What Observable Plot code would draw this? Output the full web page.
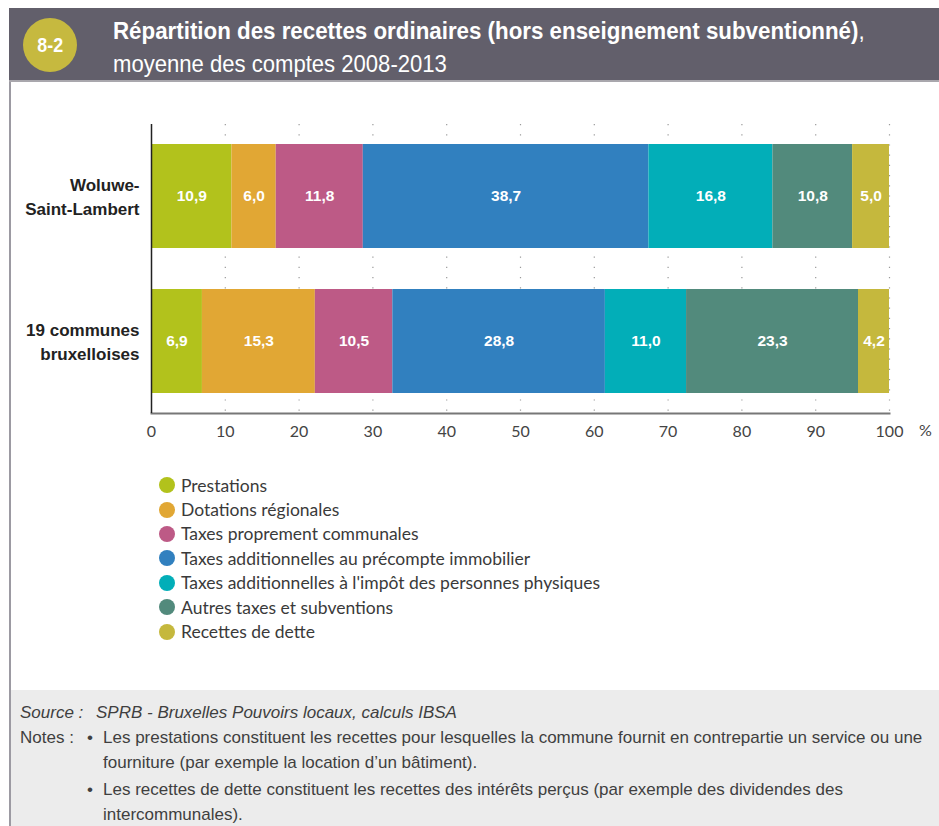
<!DOCTYPE html>
<html><head><meta charset="utf-8">
<script src="https://cdn.jsdelivr.net/npm/d3@7"></script>
<script src="https://cdn.jsdelivr.net/npm/@observablehq/plot@0.6"></script>
<style>
html,body{margin:0;padding:0;background:#fff;}
body{width:939px;height:826px;position:relative;overflow:hidden;font-family:Lato,"Noto Sans",sans-serif;}
#header{position:absolute;left:9px;top:8px;width:930px;height:72px;background:#625f6b;border-bottom:2px solid #a9a7ad;}
#badge{position:absolute;left:23px;top:18px;width:54px;height:54px;border-radius:50%;background:#c6b93f;color:#fff;font:bold 21px "Liberation Sans",sans-serif;display:flex;align-items:center;justify-content:center;}
#badge span{display:inline-block;transform:scaleX(0.85);}
#title{position:absolute;left:113px;top:17px;color:#fff;font:bold 24px "Liberation Sans",sans-serif;white-space:nowrap;transform-origin:0 0;transform:scaleX(0.93);}
#title span{font-weight:normal;}
#subtitle{position:absolute;left:113px;top:50px;color:#fff;font:normal 24px "Liberation Sans",sans-serif;white-space:nowrap;transform-origin:0 0;transform:scaleX(0.92);}
#leftborder{position:absolute;left:9px;top:82px;width:2px;height:744px;background:#9c9aa2;}
#chart{position:absolute;left:0;top:100px;}
#legend{position:absolute;left:159px;top:473px;font-size:17.5px;color:#3a3a3a;}
.li{height:24.4px;display:flex;align-items:center;}
.dot{width:16px;height:16px;border-radius:50%;margin-right:6px;}
#footer{position:absolute;left:11px;top:690px;width:928px;height:136px;background:#ececec;color:#3f3f3f;font:17px "Liberation Sans",sans-serif;}
.ft{position:absolute;white-space:nowrap;}
</style></head>
<body>
<div id="header"></div>
<div id="badge"></div>
<div id="title"></div>
<div id="subtitle"></div>
<div id="leftborder"></div>
<div id="chart"></div>
<div id="legend"></div>
<div id="footer"></div>
<script>
const badgeText = "8-2";
const titleText = "Répartition des recettes ordinaires (hors enseignement subventionné)";
const subtitleText = "moyenne des comptes 2008-2013";
const communes = ["Woluwe-Saint-Lambert", "19 communes bruxelloises"];
const communeLabels = ["Woluwe-\nSaint-Lambert", "19 communes\nbruxelloises"];
const categories = [
  "Prestations",
  "Dotations régionales",
  "Taxes proprement communales",
  "Taxes additionnelles au précompte immobilier",
  "Taxes additionnelles à l'impôt des personnes physiques",
  "Autres taxes et subventions",
  "Recettes de dette"
];
const woluweValues = [10.9, 6.0, 11.8, 38.7, 16.8, 10.8, 5.0];
const bruxellesValues = [6.9, 15.3, 10.5, 28.8, 11.0, 23.3, 4.2];
const colors = ["#b2c21c", "#e1a734", "#bd5a86", "#3180bf", "#02aeb8", "#528a7c", "#c5b83d"];
const xTicks = [0, 10, 20, 30, 40, 50, 60, 70, 80, 90, 100];
const sourceLabel = "Source :";
const sourceText = "SPRB - Bruxelles Pouvoirs locaux, calculs IBSA";
const notesLabel = "Notes :";
const notesLines = [
  ["•", "Les prestations constituent les recettes pour lesquelles la commune fournit en contrepartie un service ou une"],
  ["", "fourniture (par exemple la location d’un bâtiment)."],
  ["•", "Les recettes de dette constituent les recettes des intérêts perçus (par exemple des dividendes des"],
  ["", "intercommunales)."]
];

document.getElementById("badge").innerHTML = "<span>" + badgeText + "</span>";
document.getElementById("title").innerHTML = titleText + "<span>,</span>";
document.getElementById("subtitle").textContent = subtitleText;

const data = [];
[woluweValues, bruxellesValues].forEach((vals, i) => {
  vals.forEach((v, j) => data.push({commune: communes[i], cat: categories[j], value: v}));
});
const fmt = v => v.toFixed(1).replace(".", ",");

const chart = Plot.plot({
  width: 939,
  height: 348,
  marginLeft: 151,
  marginRight: 50,
  marginTop: 24,
  marginBottom: 35,
  style: {fontFamily: "Lato, sans-serif", background: "transparent"},
  x: {domain: [0, 100]},
  y: {domain: communes, paddingInner: 0.283, paddingOuter: 0.138, axis: null},
  color: {domain: categories, range: colors},
  marks: [
    Plot.ruleX(xTicks.slice(1), {stroke: "#9a9a9a", strokeWidth: 1.2, strokeDasharray: "1.2,9"}),
    Plot.barX(data, Plot.stackX({x: "value", y: "commune", fill: "cat", order: null})),
    Plot.text(data, Plot.stackX({x: "value", y: "commune", order: null, text: d => fmt(d.value), fill: "white", fontWeight: "bold", fontSize: 15.5, fontFamily: "Liberation Sans, sans-serif"})),
    Plot.text(communes, {y: d => d, text: (d, i) => communeLabels[i], frameAnchor: "left", textAnchor: "end", dx: -12, dy: -1, lineHeight: 1.4, fontWeight: "bold", fontSize: 17, fill: "#222", fontFamily: "Liberation Sans, sans-serif"}),
    Plot.axisX({ticks: xTicks, tickSize: 0, tickPadding: 12, fontSize: 16, color: "#444", label: null}),
    Plot.text(["%"], {x: () => 100, frameAnchor: "bottom", dy: 22, dx: 36, fontSize: 16, fill: "#444"}),
    Plot.frame({anchor: "bottom", stroke: "#777", strokeWidth: 2}),
    Plot.ruleX([0], {stroke: "#222", strokeWidth: 1.5})
  ]
});
document.getElementById("chart").appendChild(chart);

const legend = document.getElementById("legend");
categories.forEach((c, i) => {
  const row = document.createElement("div");
  row.className = "li";
  row.innerHTML = `<div class="dot" style="background:${colors[i]}"></div><span>${c}</span>`;
  legend.appendChild(row);
});

const footer = document.getElementById("footer");
function ft(text, left, top, italic) {
  const d = document.createElement("div");
  d.className = "ft";
  d.style.left = left + "px";
  d.style.top = top + "px";
  if (italic) d.style.fontStyle = "italic";
  d.textContent = text;
  footer.appendChild(d);
}
ft(sourceLabel, 9, 13, true);
ft(sourceText, 85, 13, true);
ft(notesLabel, 9, 38, false);
const noteTops = [38, 63, 90, 115];
notesLines.forEach((ln, i) => {
  if (ln[0]) ft(ln[0], 76, noteTops[i], false);
  ft(ln[1], 92, noteTops[i], false);
});
</script>
</body></html>
